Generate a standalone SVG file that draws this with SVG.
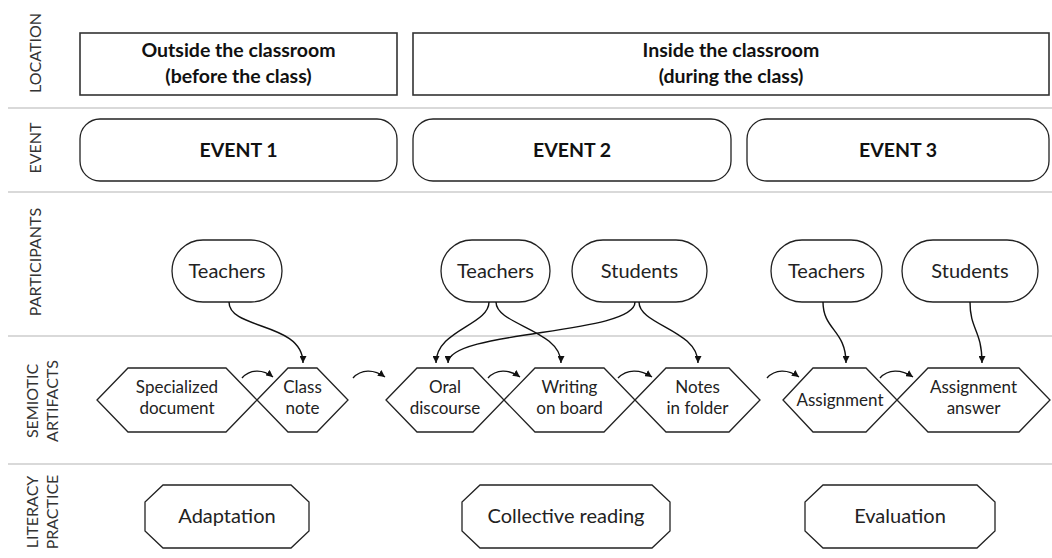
<svg xmlns="http://www.w3.org/2000/svg" width="1052" height="558" viewBox="0 0 1052 558">
<style>
  .bg{fill:#ffffff}
  .sep{stroke:#cccccc;stroke-width:1.5;fill:none}
  .side{font-family:Lato,"Open Sans",sans-serif;font-size:16px;fill:#333333;text-anchor:middle}
  .box{fill:#ffffff;stroke:#333333;stroke-width:1.6}
  .shape{fill:#ffffff;stroke:#222222;stroke-width:1.3}
  .bold{font-family:Lato,"Open Sans",sans-serif;font-size:19.5px;font-weight:bold;fill:#111111;text-anchor:middle}
  .lbl{font-family:Lato,"Open Sans",sans-serif;font-size:20px;fill:#222222;text-anchor:middle}
  .art{font-family:Lato,"Open Sans",sans-serif;font-size:17px;fill:#222222;text-anchor:middle}
  .edge{fill:none;stroke:#111111;stroke-width:1.4}
</style>
<defs>
  <marker id="ah" markerUnits="userSpaceOnUse" markerWidth="8" markerHeight="7" refX="7" refY="3.5" orient="auto">
    <path d="M0,0 L7,3.5 L0,7 z" fill="#111111"/>
  </marker>
</defs>
<rect class="bg" x="0" y="0" width="1052" height="558"/>

<g id="separators">
  <line class="sep" x1="8" y1="108" x2="1052" y2="108"/>
  <line class="sep" x1="8" y1="192" x2="1052" y2="192"/>
  <line class="sep" x1="8" y1="336" x2="1052" y2="336"/>
  <line class="sep" x1="8" y1="464" x2="1052" y2="464"/>
</g>

<g id="row-labels">
  <text class="side" transform="translate(41,53) rotate(-90)">LOCATION</text>
  <text class="side" transform="translate(41,148) rotate(-90)">EVENT</text>
  <text class="side" transform="translate(41,262) rotate(-90)">PARTICIPANTS</text>
  <text class="side" transform="translate(38,401) rotate(-90)">SEMIOTIC</text>
  <text class="side" transform="translate(58,401) rotate(-90)">ARTIFACTS</text>
  <text class="side" transform="translate(38,512) rotate(-90)">LITERACY</text>
  <text class="side" transform="translate(58,512) rotate(-90)">PRACTICE</text>
</g>

<g id="location-outside">
  <rect class="box" x="80" y="33" width="317" height="62"/>
  <text class="bold" x="238.5" y="57">Outside the classroom</text>
  <text class="bold" x="238.5" y="83">(before the class)</text>
</g>
<g id="location-inside">
  <rect class="box" x="413" y="33" width="636" height="62"/>
  <text class="bold" x="731" y="57">Inside the classroom</text>
  <text class="bold" x="731" y="83">(during the class)</text>
</g>

<g id="event1">
  <rect class="shape" x="80" y="119" width="317" height="62" rx="20"/>
  <text class="bold" x="238.5" y="157">EVENT 1</text>
</g>
<g id="event2">
  <rect class="shape" x="413" y="119" width="318" height="62" rx="20"/>
  <text class="bold" x="572" y="157">EVENT 2</text>
</g>
<g id="event3">
  <rect class="shape" x="747" y="119" width="302" height="62" rx="20"/>
  <text class="bold" x="898" y="157">EVENT 3</text>
</g>

<g id="teachers1">
  <rect class="shape" x="172" y="240" width="110" height="62" rx="31"/>
  <text class="lbl" x="227" y="278">Teachers</text>
</g>
<g id="teachers2">
  <rect class="shape" x="441" y="240" width="109" height="62" rx="31"/>
  <text class="lbl" x="495.5" y="278">Teachers</text>
</g>
<g id="students2">
  <rect class="shape" x="572" y="240" width="135" height="62" rx="31"/>
  <text class="lbl" x="639.5" y="278">Students</text>
</g>
<g id="teachers3">
  <rect class="shape" x="771" y="240" width="111" height="62" rx="31"/>
  <text class="lbl" x="826.5" y="278">Teachers</text>
</g>
<g id="students3">
  <rect class="shape" x="902" y="240" width="136" height="62" rx="31"/>
  <text class="lbl" x="970" y="278">Students</text>
</g>

<g id="specialized-document">
  <polygon class="shape" points="97,400 128,368 226,368 257,400 226,432 128,432"/>
  <text class="art" x="177" y="393">Specialized</text>
  <text class="art" x="177" y="414">document</text>
</g>
<g id="class-note">
  <polygon class="shape" points="257,400 288,368 317,368 348,400 317,432 288,432"/>
  <text class="art" x="302.5" y="393">Class</text>
  <text class="art" x="302.5" y="414">note</text>
</g>
<g id="oral-discourse">
  <polygon class="shape" points="386,400 417,368 473,368 504,400 473,432 417,432"/>
  <text class="art" x="445" y="393">Oral</text>
  <text class="art" x="445" y="414">discourse</text>
</g>
<g id="writing-on-board">
  <polygon class="shape" points="504,400 535,368 604,368 635,400 604,432 535,432"/>
  <text class="art" x="569.5" y="393">Writing</text>
  <text class="art" x="569.5" y="414">on board</text>
</g>
<g id="notes-in-folder">
  <polygon class="shape" points="635,400 666,368 729,368 760,400 729,432 666,432"/>
  <text class="art" x="697.5" y="393">Notes</text>
  <text class="art" x="697.5" y="414">in folder</text>
</g>
<g id="assignment">
  <polygon class="shape" points="783,400 813,368 866,368 897,400 866,432 813,432"/>
  <text class="art" x="840" y="406">Assignment</text>
</g>
<g id="assignment-answer">
  <polygon class="shape" points="897,400 928,368 1019,368 1050,400 1019,432 928,432"/>
  <text class="art" x="973.5" y="393">Assignment</text>
  <text class="art" x="973.5" y="414">answer</text>
</g>

<g id="adaptation">
  <polygon class="shape" points="163,485 291,485 309,502 309,531 291,548 163,548 145,531 145,502"/>
  <text class="lbl" x="227" y="523">Adaptation</text>
</g>
<g id="collective-reading">
  <polygon class="shape" points="480,485 652,485 670,502 670,531 652,548 480,548 462,531 462,502"/>
  <text class="lbl" x="566" y="523">Collective reading</text>
</g>
<g id="evaluation">
  <polygon class="shape" points="823,485 977,485 995,502 995,531 977,548 823,548 805,531 805,502"/>
  <text class="lbl" x="900" y="523">Evaluation</text>
</g>

<g id="connectors">
  <path class="edge" marker-end="url(#ah)" d="M229,302 C229,330 303,322 303,363"/>
  <path class="edge" marker-end="url(#ah)" d="M489,302 C489,325 436,330 436,363"/>
  <path class="edge" marker-end="url(#ah)" d="M496,302 C496,325 561,330 561,363"/>
  <path class="edge" marker-end="url(#ah)" d="M635,302 C635,335 448,330 448,363"/>
  <path class="edge" marker-end="url(#ah)" d="M639,302 C639,325 698,330 698,363"/>
  <path class="edge" marker-end="url(#ah)" d="M823,302 C823,330 846,330 846,363"/>
  <path class="edge" marker-end="url(#ah)" d="M970,302 C970,330 982,330 982,363"/>
  <path class="edge" marker-end="url(#ah)" d="M242,378 C250,369 263,369 273,377"/>
  <path class="edge" marker-end="url(#ah)" d="M353,378 C361,369 374,369 385,377"/>
  <path class="edge" marker-end="url(#ah)" d="M488,378 C496,369 509,369 520,377"/>
  <path class="edge" marker-end="url(#ah)" d="M618,378 C627,369 640,369 652,377"/>
  <path class="edge" marker-end="url(#ah)" d="M767,378 C775,369 788,369 799,377"/>
  <path class="edge" marker-end="url(#ah)" d="M880,378 C888,369 901,369 913,377"/>
</g>
</svg>
